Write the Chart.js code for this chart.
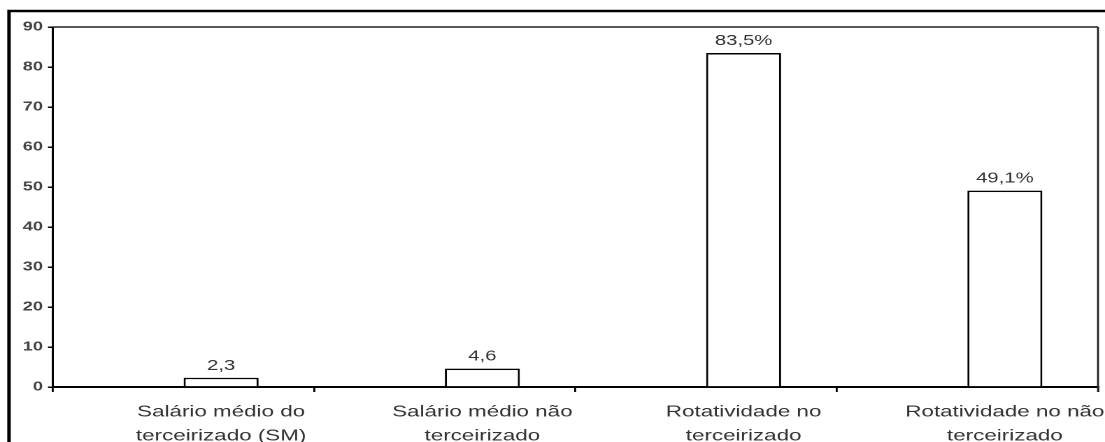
<!DOCTYPE html>
<html><head><meta charset="utf-8">
<script src="https://cdn.jsdelivr.net/npm/chart.js@4/dist/chart.umd.min.js"></script>
<style>
html,body{margin:0;padding:0;background:#fff;overflow:hidden;width:1105px;height:442px}
#wrap{position:absolute;left:0;top:0;width:790px;height:442px;transform:scaleX(1.39873);transform-origin:0 0}
</style></head><body>
<div id="wrap"><canvas id="c" width="790" height="442"></canvas></div>
<script>
// ---- data ----
const categories = [
  ["Salário médio do", "terceirizado (SM)"],
  ["Salário médio não", "terceirizado"],
  ["Rotatividade no", "terceirizado"],
  ["Rotatividade no não", "terceirizado"]
];
const values = [2.3, 4.6, 83.5, 49.1];
const valueLabels = ["2,3", "4,6", "83,5%", "49,1%"];
const emptySeries = [null, null, null, null];
const yMin = 0, yMax = 90, yStep = 10;

// ---- layout (canvas is stretched horizontally to fill the window) ----
const STRETCH = 1105 / 790;
const px = v => v / STRETCH;
const AREA_LEFT = px(53), AREA_RIGHT = px(1098), AREA_TOP = 27, AREA_BOTTOM = 387;
const CAT_PCT = 0.574;
const catWidth = (AREA_RIGHT - AREA_LEFT) / categories.length;

const framePlugin = {
  id: 'frame',
  beforeDraw(chart) {
    const ctx = chart.ctx;
    ctx.save();
    ctx.fillStyle = '#fff';
    ctx.fillRect(0, 0, chart.width, chart.height);
    ctx.strokeStyle = '#000';
    ctx.lineWidth = 2.5;
    ctx.beginPath();
    ctx.moveTo(px(9), chart.height + 5);
    ctx.lineTo(px(9), 11);
    ctx.lineTo(chart.width + 5, 11);
    ctx.stroke();
    ctx.restore();
  },
  afterDraw(chart) {
    const ctx = chart.ctx, a = chart.chartArea;
    ctx.save();
    ctx.strokeStyle = '#222';
    ctx.lineWidth = 1.6;
    ctx.beginPath();
    ctx.moveTo(a.left, a.top);
    ctx.lineTo(a.right, a.top);
    ctx.stroke();
    ctx.lineWidth = 1.4;
    ctx.beginPath();
    ctx.moveTo(a.right, a.top);
    ctx.lineTo(a.right, a.bottom + 5);
    ctx.stroke();
    // value labels
    const meta = chart.getDatasetMeta(1);
    ctx.fillStyle = '#333';
    ctx.font = "14.5px 'Liberation Sans', Arial, sans-serif";
    ctx.textAlign = 'center';
    ctx.textBaseline = 'alphabetic';
    meta.data.forEach((bar, i) => {
      ctx.fillText(valueLabels[i], bar.x, bar.y - 8);
    });
    ctx.restore();
  }
};

Chart.defaults.font.family = "'Liberation Sans', Arial, sans-serif";

new Chart(document.getElementById('c'), {
  type: 'bar',
  data: {
    labels: categories,
    datasets: [
      { data: emptySeries, backgroundColor: '#fff', borderWidth: 0 },
      { data: values, backgroundColor: '#fff', borderColor: '#000', borderWidth: 1.5, borderSkipped: 'start' }
    ]
  },
  options: {
    responsive: false,
    animation: false,
    devicePixelRatio: 2,
    layout: { padding: { left: 0, right: 790 - AREA_RIGHT, top: AREA_TOP, bottom: 0 } },
    plugins: { legend: { display: false }, tooltip: { enabled: false } },
    datasets: { bar: { categoryPercentage: CAT_PCT, barPercentage: 1 } },
    scales: {
      x: {
        afterFit: s => { s.height = 442 - AREA_BOTTOM; },
        grid: { offset: true, drawOnChartArea: false, drawTicks: true, tickLength: 5, color: '#000', lineWidth: 1.4 },
        border: { display: true, color: '#000', width: 2 },
        ticks: {
          color: '#333', font: { size: 16, lineHeight: 1.5 }, padding: 8, maxRotation: 0, minRotation: 0, autoSkip: false,
          labelOffset: catWidth * CAT_PCT / 4
        }
      },
      y: {
        min: yMin, max: yMax,
        afterFit: s => { s.width = AREA_LEFT; },
        grid: { drawOnChartArea: false, drawTicks: true, tickLength: px(5), color: '#000', lineWidth: 1.5 },
        border: { display: true, color: '#000', width: 1.5 },
        ticks: { stepSize: yStep, color: '#444', font: { size: 13, weight: 'bold' }, padding: px(5) }
      }
    }
  },
  plugins: [framePlugin]
});
</script>
</body></html>
